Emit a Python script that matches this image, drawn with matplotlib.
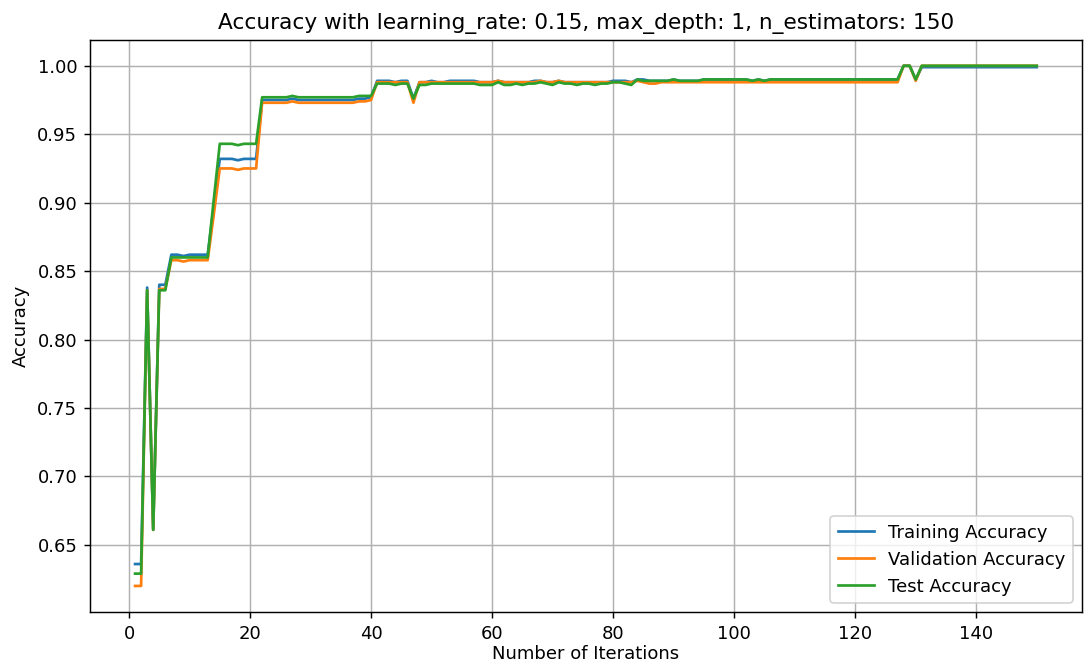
import matplotlib
matplotlib.use("Agg")
import matplotlib.pyplot as plt

# accuracy after each boosting iteration (lr=0.15, depth=1, 150 estimators)
train_acc = [
    0.636, 0.636, 0.838, 0.661, 0.840, 0.840, 0.862, 0.862, 0.861, 0.862,
    0.862, 0.862, 0.862, 0.897, 0.932, 0.932, 0.932, 0.931, 0.932, 0.932,
    0.932, 0.975, 0.975, 0.975, 0.975, 0.975, 0.976, 0.975, 0.975, 0.975,
    0.975, 0.975, 0.975, 0.975, 0.975, 0.975, 0.975, 0.976, 0.976, 0.977,
    0.989, 0.989, 0.989, 0.988, 0.989, 0.989, 0.976, 0.988, 0.988, 0.989,
    0.988, 0.988, 0.989, 0.989, 0.989, 0.989, 0.989, 0.988, 0.988, 0.988,
    0.989, 0.988, 0.988, 0.988, 0.988, 0.988, 0.989, 0.989, 0.988, 0.988,
    0.989, 0.988, 0.988, 0.988, 0.988, 0.988, 0.988, 0.988, 0.988, 0.989,
    0.989, 0.989, 0.988, 0.990, 0.990, 0.989, 0.989, 0.989, 0.989, 0.990,
    0.989, 0.989, 0.989, 0.989, 0.990, 0.990, 0.990, 0.990, 0.990, 0.990,
    0.990, 0.990, 0.989, 0.990, 0.989, 0.990, 0.990, 0.990, 0.990, 0.990,
    0.990, 0.990, 0.990, 0.990, 0.990, 0.990, 0.990, 0.990, 0.990, 0.990,
    0.990, 0.990, 0.990, 0.990, 0.990, 0.990, 0.990, 1.000, 1.000, 0.990,
    0.999, 0.999, 0.999, 0.999, 0.999, 0.999, 0.999, 0.999, 0.999, 0.999,
    0.999, 0.999, 0.999, 0.999, 0.999, 0.999, 0.999, 0.999, 0.999, 0.999,
]
val_acc = [
    0.620, 0.620, 0.836, 0.661, 0.837, 0.837, 0.858, 0.858, 0.857, 0.858,
    0.858, 0.858, 0.858, 0.891, 0.925, 0.925, 0.925, 0.924, 0.925, 0.925,
    0.925, 0.973, 0.973, 0.973, 0.973, 0.973, 0.974, 0.973, 0.973, 0.973,
    0.973, 0.973, 0.973, 0.973, 0.973, 0.973, 0.973, 0.974, 0.974, 0.975,
    0.988, 0.988, 0.988, 0.988, 0.988, 0.988, 0.973, 0.988, 0.988, 0.988,
    0.988, 0.988, 0.988, 0.988, 0.988, 0.988, 0.988, 0.988, 0.988, 0.988,
    0.989, 0.988, 0.988, 0.988, 0.988, 0.988, 0.988, 0.989, 0.988, 0.988,
    0.989, 0.988, 0.988, 0.988, 0.988, 0.988, 0.988, 0.988, 0.988, 0.988,
    0.988, 0.988, 0.988, 0.989, 0.988, 0.987, 0.987, 0.988, 0.988, 0.988,
    0.988, 0.988, 0.988, 0.988, 0.988, 0.988, 0.988, 0.988, 0.988, 0.988,
    0.988, 0.988, 0.988, 0.988, 0.988, 0.988, 0.988, 0.988, 0.988, 0.988,
    0.988, 0.988, 0.988, 0.988, 0.988, 0.988, 0.988, 0.988, 0.988, 0.988,
    0.988, 0.988, 0.988, 0.988, 0.988, 0.988, 0.988, 1.000, 1.000, 0.989,
    1.000, 1.000, 1.000, 1.000, 1.000, 1.000, 1.000, 1.000, 1.000, 1.000,
    1.000, 1.000, 1.000, 1.000, 1.000, 1.000, 1.000, 1.000, 1.000, 1.000,
]
test_acc = [
    0.629, 0.629, 0.836, 0.661, 0.836, 0.836, 0.860, 0.860, 0.860, 0.860,
    0.860, 0.860, 0.860, 0.902, 0.943, 0.943, 0.943, 0.942, 0.943, 0.943,
    0.943, 0.977, 0.977, 0.977, 0.977, 0.977, 0.978, 0.977, 0.977, 0.977,
    0.977, 0.977, 0.977, 0.977, 0.977, 0.977, 0.977, 0.978, 0.978, 0.978,
    0.987, 0.987, 0.987, 0.986, 0.987, 0.987, 0.976, 0.986, 0.986, 0.987,
    0.987, 0.987, 0.987, 0.987, 0.987, 0.987, 0.987, 0.986, 0.986, 0.986,
    0.988, 0.986, 0.986, 0.987, 0.986, 0.987, 0.987, 0.988, 0.987, 0.986,
    0.988, 0.987, 0.987, 0.986, 0.987, 0.987, 0.986, 0.987, 0.987, 0.988,
    0.988, 0.987, 0.986, 0.990, 0.989, 0.989, 0.989, 0.989, 0.989, 0.990,
    0.989, 0.989, 0.989, 0.989, 0.990, 0.990, 0.990, 0.990, 0.990, 0.990,
    0.990, 0.990, 0.989, 0.990, 0.989, 0.990, 0.990, 0.990, 0.990, 0.990,
    0.990, 0.990, 0.990, 0.990, 0.990, 0.990, 0.990, 0.990, 0.990, 0.990,
    0.990, 0.990, 0.990, 0.990, 0.990, 0.990, 0.990, 1.000, 1.000, 0.990,
    1.000, 1.000, 1.000, 1.000, 1.000, 1.000, 1.000, 1.000, 1.000, 1.000,
    1.000, 1.000, 1.000, 1.000, 1.000, 1.000, 1.000, 1.000, 1.000, 1.000,
]
iterations = list(range(1, len(train_acc) + 1))

# 1084x663 px at 130 dpi
fig = plt.figure(figsize=(1084 / 130, 663 / 130), dpi=130)
plt.subplots_adjust(left=0.083, right=0.998, top=0.940, bottom=0.077)

plt.plot(iterations, train_acc, label='Training Accuracy')
plt.plot(iterations, val_acc, label='Validation Accuracy')
plt.plot(iterations, test_acc, label='Test Accuracy')
plt.title('Accuracy with learning_rate: 0.15, max_depth: 1, n_estimators: 150')
plt.xlabel('Number of Iterations', labelpad=1.5)
plt.ylabel('Accuracy')
plt.legend(loc='lower right')
plt.grid(True)
plt.savefig('out.png', dpi=130)
